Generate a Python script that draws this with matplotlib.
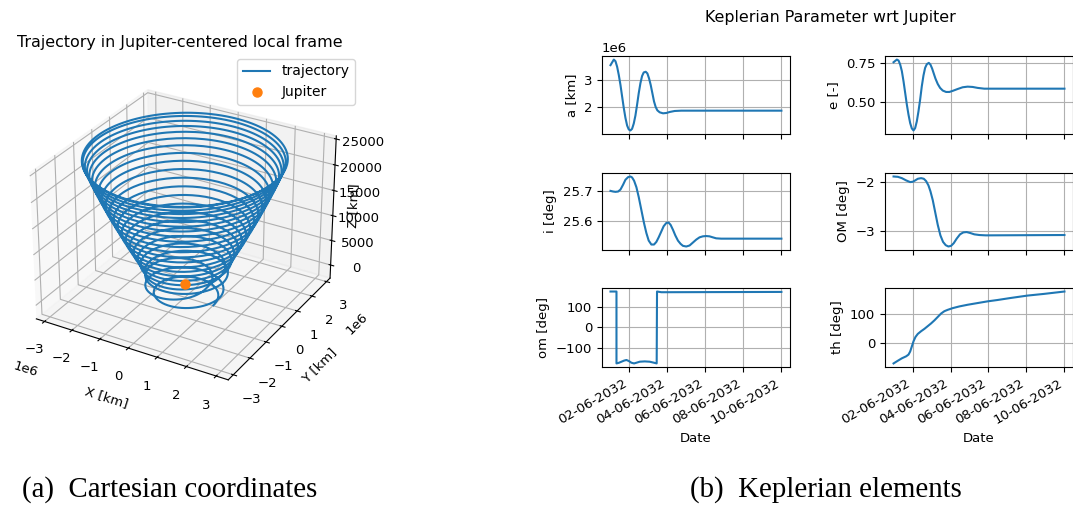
import numpy as np
import pandas as pd
import matplotlib
matplotlib.use("Agg")
import matplotlib.pyplot as plt
import matplotlib.dates as mdates

plt.rcParams['font.size'] = 9.5

# ---- trajectory: one entry per revolution (bottom to top) ----
ring_z = [-800, 200, 1200, 2550, 3530, 4710, 5880, 7160, 8430, 9710, 11080, 12450,
          13820, 15200, 16570, 17840, 19120, 20290, 21370, 22350, 23240, 24020, 24800]
ring_r = [1.02e6, 1.06e6, 1.12e6, 1.20e6, 1.29e6, 1.39e6, 1.50e6, 1.61e6, 1.73e6, 1.85e6, 1.97e6, 2.09e6,
          2.21e6, 2.33e6, 2.44e6, 2.54e6, 2.64e6, 2.73e6, 2.81e6, 2.88e6, 2.94e6, 3.00e6, 3.06e6]
ring_cx = [0.25e6, 0.30e6, -0.25e6, 0.15e6, -0.05e6, 0.03e6, 0, 0, 0, 0, 0, 0,
           0, 0, 0, 0, 0, 0, 0, 0, 0, 0, 0]
ring_cy = [-0.45e6, -0.20e6, -0.20e6, 0.0, -0.05e6, 0.0, 0, 0, 0, 0, 0, 0,
           0, 0, 0, 0, 0, 0, 0, 0, 0, 0, 0]

# ---- keplerian elements (days from 01-06-2032) ----
a_day = [0, 0.175, 0.262, 0.35, 0.437, 0.525, 0.612, 0.7, 0.787, 0.875, 0.962, 1.05, 1.137, 1.225, 1.312,
         1.4, 1.487, 1.575, 1.662, 1.75, 1.855, 1.942, 2.03, 2.117, 2.205, 2.292, 2.38, 2.467, 2.59, 2.765,
         2.94, 3.115, 3.377, 3.727, 9]
a_val = [3.549e6, 3.756e6, 3.695e6, 3.488e6, 3.183e6, 2.817e6, 2.390e6, 1.963e6, 1.598e6, 1.317e6, 1.171e6,
         1.134e6, 1.195e6, 1.390e6, 1.683e6, 2.085e6, 2.512e6, 2.878e6, 3.146e6, 3.280e6, 3.305e6, 3.244e6,
         3.061e6, 2.817e6, 2.512e6, 2.207e6, 2.0e6, 1.878e6, 1.805e6, 1.768e6, 1.780e6, 1.817e6, 1.854e6,
         1.866e6, 1.866e6]

e_day = [0, 0.175, 0.262, 0.35, 0.437, 0.525, 0.612, 0.7, 0.787, 0.875, 0.962, 1.05, 1.137, 1.225, 1.312,
         1.4, 1.487, 1.575, 1.662, 1.75, 1.855, 1.942, 2.03, 2.117, 2.205, 2.327, 2.45, 2.59, 2.765, 2.94,
         3.115, 3.377, 3.64, 3.902, 4.164, 4.427, 4.777, 9]
e_val = [0.754, 0.771, 0.765, 0.739, 0.697, 0.632, 0.558, 0.483, 0.419, 0.365, 0.331, 0.318, 0.333, 0.376,
         0.440, 0.515, 0.600, 0.669, 0.718, 0.741, 0.750, 0.739, 0.714, 0.682, 0.650, 0.615, 0.590, 0.573,
         0.564, 0.564, 0.571, 0.583, 0.594, 0.598, 0.596, 0.590, 0.585, 0.585]

i_day = [0, 0.14, 0.262, 0.402, 0.525, 0.665, 0.787, 0.927, 1.05, 1.137, 1.242, 1.365, 1.487, 1.627, 1.767,
         1.89, 2.012, 2.152, 2.292, 2.415, 2.537, 2.677, 2.8, 2.94, 3.062, 3.167, 3.29, 3.412, 3.552, 3.692,
         3.815, 3.99, 4.164, 4.339, 4.514, 4.689, 4.864, 5.039, 5.214, 5.389, 5.564, 5.827, 9]
i_val = [25.6989, 25.6968, 25.6957, 25.6968, 25.7032, 25.7194, 25.7355, 25.7441, 25.7462, 25.7430, 25.7323,
         25.7108, 25.6785, 25.6355, 25.5925, 25.5602, 25.5355, 25.5226, 25.5226, 25.5312, 25.5462, 25.5656,
         25.5828, 25.5935, 25.5946, 25.5871, 25.5710, 25.5527, 25.5355, 25.5247, 25.5183, 25.5161, 25.5194,
         25.5290, 25.5387, 25.5462, 25.5495, 25.5505, 25.5495, 25.5462, 25.5430, 25.5419, 25.5419]

OM_day = [0, 0.227, 0.437, 0.665, 0.875, 1.015, 1.137, 1.277, 1.452, 1.592, 1.715, 1.837, 1.942, 2.065, 2.187,
          2.327, 2.467, 2.607, 2.747, 2.887, 3.027, 3.167, 3.325, 3.5, 3.675, 3.85, 4.042, 4.252, 4.514,
          4.864, 9]
OM_val = [-1.885, -1.892, -1.919, -1.966, -2.0, -1.993, -1.966, -1.932, -1.919, -1.932, -1.980, -2.068,
          -2.189, -2.372, -2.608, -2.878, -3.095, -3.230, -3.297, -3.324, -3.311, -3.257, -3.162, -3.074,
          -3.034, -3.027, -3.047, -3.074, -3.088, -3.095, -3.088]

om_day = [0, 0.315, 0.315, 0.437, 0.577, 0.717, 0.84, 0.962, 1.102, 1.242, 1.365, 1.54, 1.802, 2.065,
          2.292, 2.432, 2.45, 2.677, 3.027, 9]
om_val = [178, 178, -178, -175, -169.5, -164, -161, -166, -174.6, -178, -174.6, -169.5, -168, -169.5,
          -174.6, -178, 178, 174.6, 174.6, 176]

th_day = [0, 0.227, 0.437, 0.665, 0.787, 0.875, 0.962, 1.05, 1.155, 1.277, 1.452, 1.627, 1.802, 1.977,
          2.152, 2.327, 2.502, 2.677, 2.852, 3.115, 3.465, 3.902, 4.427, 4.952, 5.477, 6.177, 7.052, 7.927, 9]
th_val = [-70.6, -61.2, -52.9, -45.9, -40.0, -29.4, -11.8, 5.9, 21.2, 31.8, 41.2, 49.4, 58.8, 68.2,
          78.8, 90.6, 102.4, 110.6, 115.3, 121.2, 127.1, 132.9, 138.8, 144.7, 149.4, 156.5, 164.7, 170.6, 178.8]

t0 = pd.Timestamp("2032-06-01")


def to_dates(days):
    return t0 + pd.to_timedelta(days, unit="D")


fig = plt.figure(figsize=(10.73, 5.07), dpi=100)

# ---------------- (a) 3D trajectory ----------------
xs, ys, zs = [], [], []
for k in range(len(ring_r) - 1):
    th = np.linspace(0, 2 * np.pi, 120, endpoint=False)
    f = th / (2 * np.pi)
    r = ring_r[k] + (ring_r[k + 1] - ring_r[k]) * f
    cx = ring_cx[k] + (ring_cx[k + 1] - ring_cx[k]) * f
    cy = ring_cy[k] + (ring_cy[k + 1] - ring_cy[k]) * f
    xs.append(cx + r * np.cos(th))
    ys.append(cy + r * np.sin(th))
    zs.append(ring_z[k] + (ring_z[k + 1] - ring_z[k]) * f)
# close the last revolution
th = np.linspace(0, 2 * np.pi, 121)
xs.append(ring_cx[-1] + ring_r[-1] * np.cos(th))
ys.append(ring_cy[-1] + ring_r[-1] * np.sin(th))
zs.append(np.full_like(th, ring_z[-1]))
xs = np.concatenate(xs)
ys = np.concatenate(ys)
zs = np.concatenate(zs)

ax3 = fig.add_axes([0.010, 0.162, 0.318, 0.76], projection="3d")
ax3.view_init(elev=29, azim=-60)
ax3.plot(xs, ys, zs, color="C0", lw=1.5, label="trajectory")
ax3.plot([0], [0], [0], "o", color="C1", ms=6.5, label="Jupiter")
ax3.set_xlim(-3.3e6, 3.4e6)
ax3.set_ylim(-3.3e6, 3.25e6)
ax3.set_zlim(-2700, 25600)
ax3.set_xlabel("X [km]")
ax3.set_ylabel("Y [km]")
ax3.set_zlabel("Z [km]", labelpad=-12)
fig.text(0.168, 1 - 42 / 507, "Trajectory in Jupiter-centered local frame", ha="center", va="center",
         fontsize=11.4)
ax3.legend(loc="upper right", bbox_to_anchor=(362 / 1073, 1 - 52 / 507), bbox_transform=fig.transFigure,
           fontsize=10)

# ---------------- (b) keplerian elements ----------------
lx, rx, w = 0.561, 0.8248, 0.1752
rows = [(0.7357, 0.1538), (0.5069, 0.1519), (0.2761, 0.156)]
panels = [
    (lx, 0, a_day, a_val, "a [km]"),
    (rx, 0, e_day, e_val, "e [-]"),
    (lx, 1, i_day, i_val, "i [deg]"),
    (rx, 1, OM_day, OM_val, "OM [deg]"),
    (lx, 2, om_day, om_val, "om [deg]"),
    (rx, 2, th_day, th_val, "th [deg]"),
]
for x0, row, days, vals, lab in panels:
    b, h = rows[row]
    ax = fig.add_axes([x0, b, w, h])
    ax.plot(to_dates(days), vals, color="C0", lw=1.5)
    ax.set_ylabel(lab)
    ax.grid(True)
    ax.xaxis.set_major_locator(mdates.DayLocator(bymonthday=[2, 4, 6, 8, 10]))
    ax.xaxis.set_major_formatter(mdates.DateFormatter("%d-%m-%Y"))
    if row < 2:
        ax.tick_params(labelbottom=False)
    else:
        ax.set_xlabel("Date")
        for t in ax.get_xticklabels():
            t.set_rotation(30)
            t.set_ha("right")
    if lab == "e [-]":
        ax.set_yticks([0.5, 0.75])
    if lab == "i [deg]":
        ax.set_yticks([25.6, 25.7])
    if lab == "OM [deg]":
        ax.set_yticks([-3, -2])

fig.text(0.7735, 0.9645, "Keplerian Parameter wrt Jupiter", ha="center", va="center", fontsize=11.4)

fig.text(0.158, 0.034, "(a)  Cartesian coordinates", ha="center", va="center",
         family="Liberation Serif", fontsize=20.8)
fig.text(0.77, 0.034, "(b)  Keplerian elements", ha="center", va="center",
         family="Liberation Serif", fontsize=20.8)

fig.savefig("out.png", dpi=100)
